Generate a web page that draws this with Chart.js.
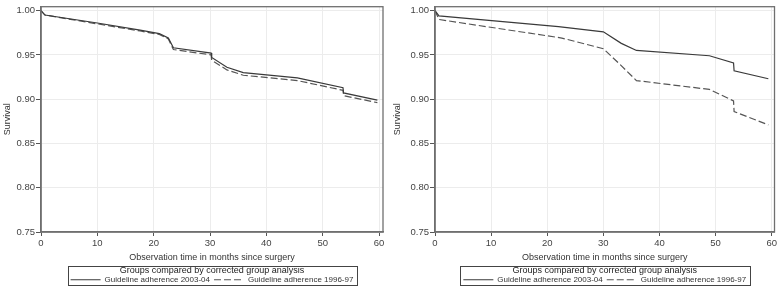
<!DOCTYPE html>
<html>
<head>
<meta charset="utf-8">
<script src="https://cdn.jsdelivr.net/npm/chart.js@4.4.1/dist/chart.umd.min.js"></script>
<style>
  body { margin: 0; background: #fff; }
  #wrap { position: relative; width: 779px; height: 287px; }
  canvas { position: absolute; top: 0; }
</style>
</head>
<body>
<div id="wrap">
  <canvas id="left" width="390" height="287" style="left:0"></canvas>
  <canvas id="right" width="389" height="287" style="left:390px"></canvas>
</div>
<script>
// survival curves (months, survival)
const leftNewT = [0, 0.7, 10, 17.6, 21, 22.6, 23.5, 30.2, 30.3, 33, 35.9, 45.5, 53.6, 53.7, 59.7];
const leftNewS = [1.0, 0.995, 0.986, 0.978, 0.974, 0.969, 0.958, 0.952, 0.947, 0.936, 0.930, 0.924, 0.913, 0.907, 0.899];
const leftOldT = [0, 0.7, 10, 17.6, 21, 22.6, 23.5, 30.2, 30.3, 33, 35.9, 45.5, 53.6, 53.7, 59.7];
const leftOldS = [1.0, 0.995, 0.985, 0.977, 0.973, 0.968, 0.956, 0.950, 0.944, 0.933, 0.927, 0.921, 0.910, 0.904, 0.896];

const rightNewT = [0, 0.7, 22, 30, 33.2, 35.9, 48.9, 53.2, 53.3, 59.4];
const rightNewS = [1.0, 0.994, 0.982, 0.976, 0.963, 0.955, 0.949, 0.941, 0.932, 0.923];
const rightOldT = [0, 0.7, 22.6, 30, 33, 35.9, 48.9, 53.2, 53.3, 59.4];
const rightOldS = [1.0, 0.990, 0.969, 0.957, 0.939, 0.921, 0.911, 0.898, 0.886, 0.871];

const xTicks = [0, 10, 20, 30, 40, 50, 60];
const yTicks = [0.75, 0.80, 0.85, 0.90, 0.95, 1.00];

const seriesLabels = ['Guideline adherence 2003-04', 'Guideline adherence 1996-97'];
const legendTitle = 'Groups compared by corrected group analysis';
const xTitle = 'Observation time in months since surgery';
const yTitle = 'Survival';

Chart.defaults.font.family = "'Liberation Sans', Arial, sans-serif";
Chart.defaults.color = '#333';

const toPoints = (t, s) => t.map((v, i) => ({ x: v, y: s[i] }));

// frame round the plot and box round the legend
const framePlugin = {
  id: 'frame',
  afterDraw(chart) {
    const { ctx, chartArea: a, legend } = chart;
    ctx.save();
    ctx.strokeStyle = '#6f6f6f';
    ctx.lineWidth = 1.3;
    ctx.strokeRect(a.left, a.top, a.right - a.left, a.bottom - a.top);
    const hb = legend.legendHitBoxes;
    const l = Math.round(hb[0].left - 3) + 0.5;
    const last = hb[hb.length - 1];
    const r = Math.round(last.left + last.width + 4) + 0.5;
    const t = Math.round(legend.top + 3) + 0.5;
    const b = Math.round(legend.bottom - 1) - 0.5;
    ctx.strokeStyle = '#444';
    ctx.lineWidth = 1;
    ctx.strokeRect(l, t, r - l, b - t);
    ctx.restore();
  }
};

// legend samples take dash and width from the dataset line
function legendLabels(chart) {
  const items = Chart.defaults.plugins.legend.labels.generateLabels(chart);
  items.forEach(it => {
    const ds = chart.data.datasets[it.datasetIndex];
    it.lineDash = ds.borderDash || [];
    it.lineWidth = ds.borderWidth;
    it.strokeStyle = ds.borderColor;
  });
  return items;
}

function makeChart(id, newPts, oldPts, yWidth, padRight, xMax) {
  return new Chart(document.getElementById(id), {
    type: 'line',
    data: {
      datasets: [{
        label: seriesLabels[0],
        data: newPts,
        borderColor: '#3a3a3a',
        borderWidth: 1.2,
        pointRadius: 0,
        tension: 0
      }, {
        label: seriesLabels[1],
        data: oldPts,
        borderColor: '#555',
        borderWidth: 1.2,
        borderDash: [7, 3],
        pointRadius: 0,
        tension: 0
      }]
    },
    options: {
      responsive: false,
      animation: false,
      layout: { padding: { left: 0, right: padRight, top: 2, bottom: 0 } },
      scales: {
        x: {
          type: 'linear',
          min: 0,
          max: xMax,
          afterBuildTicks: s => { s.ticks = xTicks.map(v => ({ value: v })); },
          afterFit: s => { s.height = 30.75; },
          grid: { color: '#ececec', tickColor: '#555', tickLength: 4 },
          border: { color: '#6f6f6f', width: 1.5 },
          ticks: { font: { size: 9.5 }, color: '#444', padding: 2, maxRotation: 0 },
          title: { display: true, text: xTitle, font: { size: 9 }, color: '#333', padding: 0 }
        },
        y: {
          min: 0.75,
          max: 1.0044,
          afterBuildTicks: s => { s.ticks = yTicks.map(v => ({ value: v })); },
          afterFit: s => { s.width = yWidth; },
          grid: { color: '#ececec', tickColor: '#555', tickLength: 5 },
          border: { color: '#6f6f6f', width: 1.5 },
          ticks: { font: { size: 9.5 }, color: '#444', padding: 1, callback: v => v.toFixed(2) },
          title: { display: true, text: yTitle, font: { size: 9 }, color: '#333', padding: { top: 2.5, bottom: 0 } }
        }
      },
      plugins: {
        tooltip: { enabled: false },
        legend: {
          position: 'bottom',
          fullSize: false,
          maxHeight: 24.25,
          labels: {
            usePointStyle: true,
            pointStyle: 'line',
            pointStyleWidth: 30,
            padding: 4,
            color: '#333',
            font: { size: 8 },
            generateLabels: legendLabels
          },
          title: {
            display: true,
            text: legendTitle,
            color: '#222',
            font: { size: 9, lineHeight: 1 },
            padding: { top: 3, bottom: -3 }
          }
        }
      }
    },
    plugins: [framePlugin]
  });
}

makeChart('left', toPoints(leftNewT, leftNewS), toPoints(leftOldT, leftOldS), 41, 7, 60.7);
makeChart('right', toPoints(rightNewT, rightNewS), toPoints(rightOldT, rightOldS), 45, 2, 60.5);
</script>
</body>
</html>
